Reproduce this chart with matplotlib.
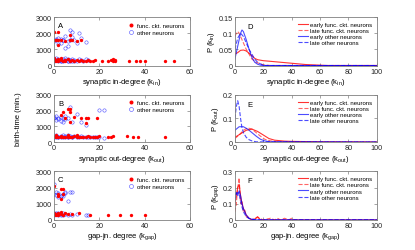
import numpy as np
import matplotlib
matplotlib.use("Agg")
from matplotlib import pyplot as plt

plt.rcParams['font.family'] = ['Liberation Sans', 'DejaVu Sans']
plt.rcParams['mathtext.fontset'] = 'custom'
plt.rcParams['mathtext.rm'] = 'Liberation Sans'
plt.rcParams['mathtext.it'] = 'Liberation Sans'

# ---- scatter data: (degree, birth time) ----
# in-degree
in_func_k = [0, 0, 1, 1, 2, 2, 3, 3, 4, 5, 5, 6, 7, 8, 9, 10, 11, 12, 13, 14, 15, 16, 17, 18, 21, 24, 25, 26, 26, 27, 27, 33, 36, 38, 40, 49, 53,
             0, 2, 2, 2, 3, 5, 7, 7, 8, 10, 12, 0, 1]
in_func_t = [300, 450, 350, 300, 400, 300, 320, 450, 300, 350, 300, 400, 300, 320, 300, 350, 300, 320, 300, 300, 350, 300, 300, 320, 300, 300, 320, 300, 420, 350, 300, 300, 300, 300, 300, 300, 300,
             2100, 2100, 1300, 1600, 1550, 1500, 1900, 1600, 1550, 1500, 1550, 1550, 1600]
in_other_k = [0, 0, 1, 1, 2, 2, 3, 3, 4, 4, 5, 5, 6, 6, 7, 7, 8, 8, 9, 10, 11, 12, 13, 14, 15, 3, 6, 9,
              0, 1, 2, 3, 4, 5, 6, 7, 8, 9, 10, 11, 12, 14, 5, 6, 3, 2, 1, 4, 8, 7]
in_other_t = [300, 400, 350, 450, 300, 400, 350, 300, 400, 300, 350, 450, 300, 400, 350, 300, 400, 300, 350, 300, 400, 350, 300, 400, 350, 250, 260, 250,
              1500, 1600, 1700, 1650, 1550, 1800, 1500, 2200, 2100, 1600, 1400, 2000, 1700, 1450, 1100, 1200, 1400, 1350, 1650, 1600, 1750, 1550]

# out-degree
out_func_k = [0, 1, 1, 2, 3, 3, 4, 5, 6, 6, 7, 8, 9, 10, 10, 11, 12, 13, 14, 15, 16, 17, 18, 19, 20, 24, 25, 26, 32, 35, 37, 49,
              3, 4, 5, 6, 7, 7, 7, 9, 12, 14, 14, 15, 19]
out_func_t = [350, 300, 450, 350, 300, 400, 350, 300, 450, 350, 300, 350, 400, 300, 450, 350, 300, 350, 300, 400, 350, 300, 350, 300, 400, 300, 350, 400, 400, 300, 300, 300,
              1700, 1900, 1500, 2100, 2100, 1900, 1300, 1600, 1500, 1550, 1200, 1500, 1500]
out_other_k = [0, 1, 1, 2, 2, 3, 3, 4, 4, 5, 5, 6, 6, 7, 8, 8, 9, 10, 11, 12, 13, 14, 15, 16, 17, 18, 19, 20, 22, 6,
               0, 0, 1, 1, 2, 3, 3, 4, 5, 5, 6, 7, 8, 10, 12, 14, 20, 22, 4, 2]
out_other_t = [350, 300, 450, 350, 300, 400, 300, 350, 450, 300, 400, 350, 300, 400, 350, 300, 400, 350, 300, 400, 350, 300, 350, 300, 350, 300, 350, 300, 250, 450,
               1600, 1500, 1650, 1400, 1550, 1600, 1350, 1500, 1650, 1450, 1550, 2200, 1300, 1800, 1300, 1100, 2050, 2050, 1300, 1450]

# gap-junction degree
gap_func_k = [0, 0, 1, 1, 2, 2, 3, 3, 4, 5, 6, 8, 11, 16, 24, 29, 34, 40,
              0, 2, 3, 4, 3, 2, 4]
gap_func_t = [300, 450, 350, 300, 400, 300, 500, 350, 300, 400, 350, 350, 400, 300, 300, 300, 300, 300,
              2100, 1600, 1900, 1900, 1300, 1500, 1600]
gap_other_k = [0, 0, 1, 1, 2, 2, 3, 3, 4, 4, 5, 6, 7, 8, 10, 14, 15,
               0, 0, 1, 2, 3, 4, 5, 7, 6, 1, 2, 3, 4, 5, 8]
gap_other_t = [300, 400, 350, 450, 300, 400, 350, 300, 400, 300, 350, 300, 350, 300, 350, 300, 300,
               2200, 1600, 1700, 1400, 1500, 1600, 1700, 1700, 1200, 1550, 1650, 1450, 1500, 1650, 1750]

# ---- degree distributions ----
d_early_func_k = [0, 2, 4, 6, 8, 10, 12, 14, 16, 20, 25, 30, 35, 40, 45, 50, 55, 60, 65, 100]
d_early_func_p = [0.035, 0.04, 0.047, 0.048, 0.045, 0.038, 0.03, 0.022, 0.018, 0.015, 0.013, 0.011, 0.009, 0.007, 0.005, 0.003, 0.002, 0.001, 0, 0]
d_late_func_k = [0, 1, 2, 3, 4, 5, 6, 8, 10, 12, 15, 20, 25, 100]
d_late_func_p = [0.09, 0.1, 0.105, 0.1, 0.09, 0.08, 0.07, 0.05, 0.035, 0.02, 0.01, 0.002, 0, 0]
d_early_other_k = [0, 2, 4, 5, 6, 8, 10, 12, 14, 16, 18, 20, 100]
d_early_other_p = [0.02, 0.06, 0.1, 0.11, 0.105, 0.08, 0.05, 0.025, 0.01, 0.004, 0.001, 0, 0]
d_late_other_k = [0, 2, 4, 6, 8, 10, 12, 14, 16, 18, 20, 22, 100]
d_late_other_p = [0.05, 0.085, 0.1, 0.09, 0.07, 0.05, 0.035, 0.02, 0.01, 0.005, 0.001, 0, 0]

e_early_func_k = [0, 4, 8, 12, 16, 20, 24, 28, 35, 40, 50, 60, 100]
e_early_func_p = [0.02, 0.035, 0.05, 0.055, 0.045, 0.03, 0.015, 0.008, 0.004, 0.003, 0.002, 0.001, 0]
e_late_func_k = [0, 3, 6, 9, 12, 15, 18, 21, 25, 30, 100]
e_late_func_p = [0.015, 0.03, 0.05, 0.06, 0.055, 0.04, 0.025, 0.012, 0.005, 0.001, 0]
e_early_other_k = [0, 3, 6, 9, 12, 15, 18, 21, 25, 100]
e_early_other_p = [0.05, 0.065, 0.065, 0.055, 0.04, 0.025, 0.012, 0.005, 0.001, 0]
e_late_other_k = [0, 1, 2, 3, 4, 5, 6, 8, 10, 12, 15, 100]
e_late_other_p = [0.1, 0.15, 0.175, 0.15, 0.1, 0.06, 0.04, 0.02, 0.01, 0.005, 0.001, 0]

f_early_func_k = [0, 1, 2, 3, 4, 5, 6, 8, 10, 12, 14, 16, 18, 100]
f_early_func_p = [0.1, 0.15, 0.2, 0.22, 0.15, 0.1, 0.07, 0.03, 0.01, 0, 0.005, 0.02, 0, 0]
f_late_func_k = [0, 1, 2, 3, 4, 5, 6, 7, 8, 10, 12, 16, 20, 25, 28, 30, 32, 35, 38, 40, 42, 100]
f_late_func_p = [0.05, 0.1, 0.2, 0.26, 0.1, 0.12, 0.05, 0.06, 0.02, 0.01, 0, 0.015, 0, 0.01, 0, 0.01, 0, 0.01, 0, 0.01, 0, 0]
f_early_other_k = [0, 1, 2, 3, 4, 5, 6, 8, 10, 12, 15, 100]
f_early_other_p = [0.15, 0.17, 0.15, 0.18, 0.15, 0.1, 0.07, 0.03, 0.01, 0.003, 0, 0]
f_late_other_k = [0, 1, 2, 3, 4, 5, 6, 8, 10, 14, 18, 100]
f_late_other_p = [0.12, 0.16, 0.17, 0.16, 0.12, 0.08, 0.05, 0.02, 0.008, 0.002, 0, 0]

RED = '#ff0000'
BLUE = '#0000ff'
FRAME = '#808080'

fig = plt.figure(figsize=(4.15, 2.51), dpi=100)

left_pos = [[0.130, 0.735, 0.328, 0.193], [0.130, 0.430, 0.328, 0.188], [0.130, 0.120, 0.328, 0.193]]
right_pos = [[0.566, 0.735, 0.342, 0.193], [0.566, 0.430, 0.342, 0.188], [0.566, 0.120, 0.342, 0.193]]


def style_axis(ax):
    for s in ax.spines.values():
        s.set_color(FRAME)
        s.set_linewidth(0.6)
    ax.tick_params(direction='in', length=2, width=0.5, colors=FRAME, labelcolor='#262626',
                   labelsize=5.2, pad=1.5, top=True, right=True)


scatter_sets = [
    (in_func_k, in_func_t, in_other_k, in_other_t, 'A', r'synaptic in-degree (k$_{\rm in}$)'),
    (out_func_k, out_func_t, out_other_k, out_other_t, 'B', r'synaptic out-degree (k$_{\rm out}$)'),
    (gap_func_k, gap_func_t, gap_other_k, gap_other_t, 'C', r'gap-jn. degree (k$_{\rm gap}$)'),
]
for pos, (fk, ft, ok, ot, letter, xlab) in zip(left_pos, scatter_sets):
    ax = fig.add_axes(pos)
    ax.plot(ok, ot, 'o', mfc='none', mec=BLUE, mew=0.4, ms=2.4, alpha=0.7, label='other neurons')
    ax.plot(fk, ft, 'o', color=RED, ms=2.4, mew=0, label='func. ckt. neurons')
    ax.set_xlim(0, 60)
    ax.set_ylim(0, 3000)
    ax.set_xticks([0, 20, 40, 60])
    ax.set_yticks([0, 1000, 2000, 3000])
    ax.set_xlabel(xlab, fontsize=5.5, labelpad=1)
    ax.text(0.03, 0.9, letter, transform=ax.transAxes, fontsize=5.5, va='top')
    h, l = ax.get_legend_handles_labels()
    ax.legend(h[::-1], l[::-1], loc='upper right', fontsize=4.3, frameon=False, handlelength=1.0,
              handletextpad=0.6, labelspacing=0.3, borderaxespad=0.5, markerscale=1.2)
    style_axis(ax)

fig.text(0.045, 0.525, 'birth-time (min.)', rotation=90, ha='center', va='center', fontsize=5.5)

dist_sets = [
    (d_early_func_k, d_early_func_p, d_late_func_k, d_late_func_p, d_early_other_k, d_early_other_p,
     d_late_other_k, d_late_other_p, 'D', 0.15, [0, 0.05, 0.1, 0.15], ['0', '0.05', '0.1', '0.15'],
     r'synaptic in-degree (k$_{\rm in}$)', r'P (k$_{\rm in}$)'),
    (e_early_func_k, e_early_func_p, e_late_func_k, e_late_func_p, e_early_other_k, e_early_other_p,
     e_late_other_k, e_late_other_p, 'E', 0.2, [0, 0.1, 0.2], ['0', '0.1', '0.2'],
     r'synaptic out-degree (k$_{\rm out}$)', r'P (k$_{\rm out}$)'),
    (f_early_func_k, f_early_func_p, f_late_func_k, f_late_func_p, f_early_other_k, f_early_other_p,
     f_late_other_k, f_late_other_p, 'F', 0.3, [0, 0.1, 0.2, 0.3], ['0', '0.1', '0.2', '0.3'],
     r'gap-jn. degree (k$_{\rm gap}$)', r'P (k$_{\rm gap}$)'),
]
for pos, d in zip(right_pos, dist_sets):
    (efk, efp, lfk, lfp, eok, eop, lok, lop, letter, ymax, yt, ytl, xlab, ylab) = d
    ax = fig.add_axes(pos)
    ax.plot(efk, efp, '-', color=RED, lw=0.8, alpha=0.8, label='early func. ckt. neurons')
    ax.plot(lfk, lfp, '--', color=RED, lw=0.8, alpha=0.6, label='late func. ckt. neurons')
    ax.plot(eok, eop, '-', color=BLUE, lw=0.8, alpha=0.7, label='early other neurons')
    ax.plot(lok, lop, '--', color=BLUE, lw=0.8, alpha=0.7, label='late other neurons')
    ax.set_xlim(0, 100)
    ax.set_ylim(0, ymax)
    ax.set_xticks([0, 20, 40, 60, 80, 100])
    ax.set_yticks(yt)
    ax.set_yticklabels(ytl)
    ax.set_xlabel(xlab, fontsize=5.5, labelpad=1)
    ax.set_ylabel(ylab, fontsize=5.5, labelpad=1)
    ax.text(0.09, 0.88, letter, transform=ax.transAxes, fontsize=5.5, va='top')
    ax.legend(loc='upper right', fontsize=4.3, frameon=False, handlelength=1.6,
              handletextpad=0.4, labelspacing=0.15, borderaxespad=0.4)
    style_axis(ax)

plt.savefig('out.png', dpi=100)
